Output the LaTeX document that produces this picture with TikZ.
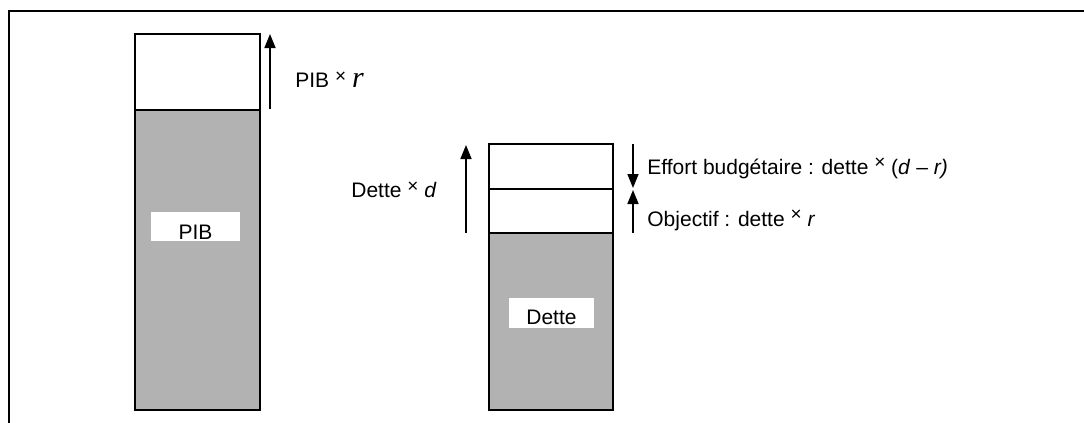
\documentclass[tikz,border=0pt]{standalone}
\usepackage{fontspec}
\setmainfont{Liberation Sans}
\newfontfamily\tms{Liberation Serif}
\usetikzlibrary{arrows.meta}
\definecolor{barfill}{RGB}{178,178,178}
\newcommand{\tmul}{{\fontsize{9.5pt}{9.5pt}\selectfont\raisebox{0.5ex}{×}}}
\begin{document}
\begin{tikzpicture}[x=0.5pt,y=-0.5pt,
  font=\fontsize{10.5pt}{12pt}\selectfont,
  bar/.style={draw=black,line width=0.8pt},
  lbox/.style={fill=white,draw=none,inner sep=0pt,minimum width=44.5pt,minimum height=14.5pt},
  txt/.style={inner sep=0pt},
  arr/.style={line width=0.8pt,-{Triangle[width=5.5pt,length=7pt]}}]
\useasboundingbox (0,0) rectangle (1084,423);
% frame (top and left only)
\draw[line width=1pt] (9,423) -- (9,11) -- (1084,11);
% PIB bar
\draw[bar,fill=white] (135,34) rectangle (260,110);
\draw[bar,fill=barfill] (135,110) rectangle (260,410);
\node[lbox,anchor=north west] (pibbox) at (151,212) {};
\node[txt,anchor=base] (pib) at (195.5,239) {PIB};
% PIB arrow
\coordinate (pa1) at (270,109);
\coordinate (pa2) at (270,34);
\draw[arr] (pa1) -- (pa2);
\node[txt,anchor=base west] (pibr) at (295,88) {PIB \tmul\ {\tms\itshape\fontsize{15pt}{15pt}\selectfont r}};
% Dette bar
\draw[bar,fill=white] (489,144) rectangle (613,189);
\draw[bar,fill=white] (489,189) rectangle (613,233);
\draw[bar,fill=barfill] (489,233) rectangle (613,410);
\node[lbox,anchor=north west,minimum width=42.5pt,minimum height=15pt] (dettebox) at (509,298) {};
\node[txt,anchor=base] (dette) at (551.5,324) {Dette};
% Dette x d arrow
\coordinate (da1) at (466,233);
\coordinate (da2) at (466,145);
\draw[arr] (da1) -- (da2);
\node[txt,anchor=base east] (dettd) at (437,198) {Dette \tmul\ \textit{d}};
% effort arrow (down)
\coordinate (ea1) at (633,144);
\coordinate (ea2) at (633,188);
\draw[arr] (ea1) -- (ea2);
% objectif arrow (up)
\coordinate (oa1) at (633,233);
\coordinate (oa2) at (633,190);
\draw[arr] (oa1) -- (oa2);
\node[txt,anchor=base west] (effort) at (647,174) {Effort budgétaire : dette \tmul\ (\textit{d} – \textit{r)}};
\node[txt,anchor=base west] (obj) at (647,226) {Objectif : dette \tmul\ \textit{r}};
\end{tikzpicture}
\end{document}
